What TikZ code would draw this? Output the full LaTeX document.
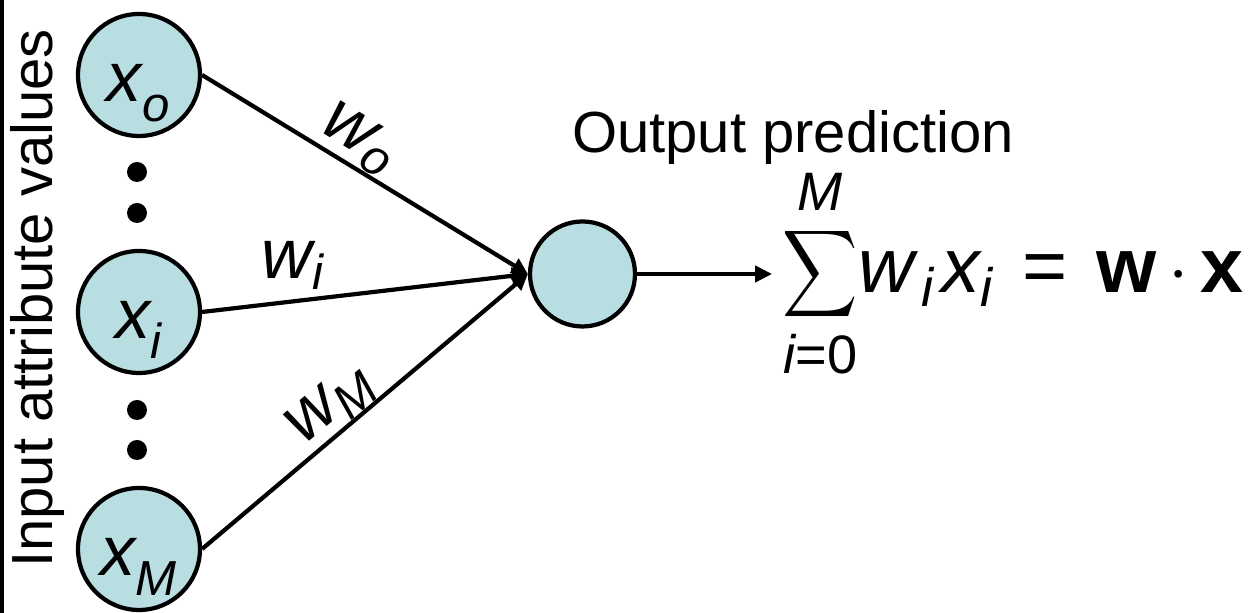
\documentclass[tikz,border=0pt]{standalone}
\usepackage{amsmath}
\usepackage{fontspec}
\setmainfont{Liberation Sans}
\usetikzlibrary{positioning,arrows.meta}
\definecolor{unitblue}{RGB}{185,222,226}
\newcommand{\vi}[1]{\text{\itshape #1}}
\newcommand{\inlab}[2]{$\vi{#1}_{\raisebox{-2.5pt}{$\scriptstyle\vi{#2}$}}$}
\newcommand{\bigsum}{\mathop{\vcenter{\hbox{\scalebox{0.86}[1]{\fontsize{17.4}{20}\selectfont$\displaystyle\sum$}}}}\limits}
\tikzset{
  unit/.style={circle,draw,line width=1.2pt,fill=unitblue,minimum size=1.22cm,inner sep=0pt,font=\fontsize{20}{24}\selectfont,text height=15pt,text depth=0pt},
  sumunit/.style={unit,minimum size=1.05cm},
  dotmark/.style={circle,fill=black,minimum size=0.2cm,inner sep=0pt},
  wire/.style={-{Triangle[length=1.6mm,width=1.6mm]},line width=1.2pt},
  wlabel/.style={font=\fontsize{20}{24}\selectfont,inner sep=0pt},
  bigtext/.style={font=\fontsize{16.5}{20}\selectfont,inner sep=0pt},
}
\begin{document}
\begin{tikzpicture}
  \useasboundingbox (0,0) rectangle (12.49,6.13);
  % frame edge
  \coordinate (frametop) at (0.02,6.13);
  \coordinate (framebot) at (0.02,0);
  \draw[line width=1.2pt] (frametop) -- (framebot);
  % input units
  \node[unit] (x0) at (1.39,5.38) {\inlab{x}{o}};
  \node[unit] (xi) at (1.39,3.01) {\inlab{x}{i}};
  \node[unit] (xM) at (1.39,0.64) {\inlab{x}{M}};
  \node[dotmark] (dot1) at (1.37,4.41) {};
  \node[dotmark] (dot2) at (1.37,4.00) {};
  \node[dotmark] (dot3) at (1.37,2.03) {};
  \node[dotmark] (dot4) at (1.37,1.63) {};
  \node[bigtext,rotate=90] (inlabel) at (0.38,3.145) {Input attribute values};
  % output unit
  \node[sumunit] (out) at (5.825,3.39) {};
  \draw[wire] (x0.east) -- (out.west)
    node[wlabel,sloped,above,pos=0.44] {$\vi{w}_{\vi{o}}$};
  \draw[wire] (xi.east) -- (out.west)
    node[wlabel,above=1mm,pos=0.28] {$\vi{w}_{\vi{i}}$};
  \draw[wire] (xM.east) -- (out.west)
    node[wlabel,sloped,above,pos=0.45] {$\vi{w}_{\vi{M}}$};
  \node[bigtext] (outlabel) at (7.93,4.75) {Output prediction};
  \node[font=\fontsize{22}{26}\selectfont,inner sep=1mm,right=1.35cm of out] (formula)
    {$\medmuskip=3mu\bigsum_{\vi{i}\text{=0}}^{\vi{M}}\!\vi{w}_{\kern2pt\vi{i}}\kern2pt\vi{x}_{\vi{i}}\mathrel{\mkern2mu\text{=}\mkern2mu}\text{\bfseries w}\cdot\text{\bfseries x}$};
  \draw[-{Triangle[length=1.7mm,width=1.6mm]},line width=1.2pt] (out.east) -- (formula.west);
\end{tikzpicture}
\end{document}
